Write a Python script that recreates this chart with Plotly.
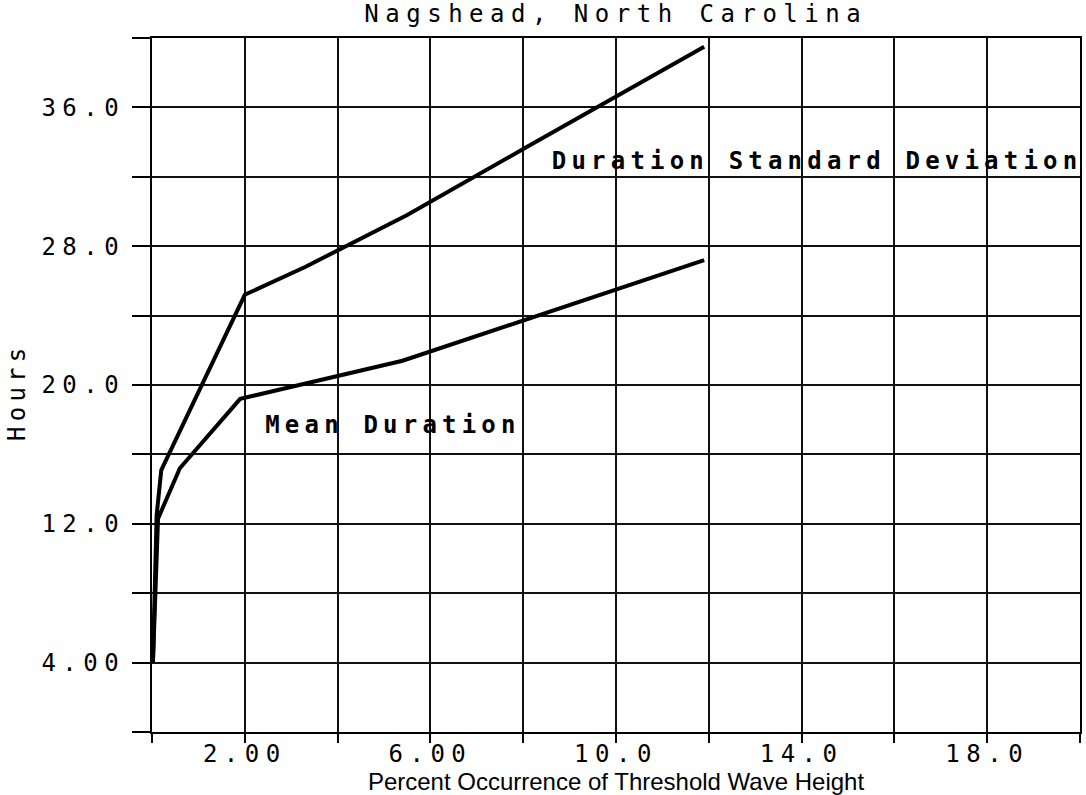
import plotly.graph_objects as go

# ---- data ----
std_x = [0.02, 0.10, 0.20, 2.00, 3.30, 5.50, 8.00, 11.90]
std_y = [4.0, 12.5, 15.1, 25.2, 26.8, 29.8, 33.6, 39.5]

mean_x = [0.02, 0.13, 0.60, 1.90, 5.40, 8.00, 11.90]
mean_y = [4.0, 12.3, 15.2, 19.2, 21.4, 23.7, 27.2]

x_tick_vals = [0, 2, 4, 6, 8, 10, 12, 14, 16, 18, 20]
x_tick_text = ["", "2.00", "", "6.00", "", "10.0", "", "14.0", "", "18.0", ""]
y_tick_vals = [0, 4, 8, 12, 16, 20, 24, 28, 32, 36, 40]
y_tick_text = ["", "4.00", "", "12.0", "", "20.0", "", "28.0", "", "36.0", ""]

title_text = "Nagshead, North Carolina"
x_title = "Percent Occurrence of Threshold Wave Height"
y_title = "Hours"
label_std = "Duration Standard Deviation"
label_mean = "Mean Duration"

MONO = "DejaVu Sans Mono"
INK = "#000000"
FS = 24

fig = go.Figure()
fig.add_trace(go.Scatter(x=std_x, y=std_y, mode="lines",
                         line=dict(color=INK, width=4), showlegend=False))
fig.add_trace(go.Scatter(x=mean_x, y=mean_y, mode="lines",
                         line=dict(color=INK, width=4), showlegend=False))

axis_common = dict(showgrid=True, gridcolor="#111111", gridwidth=1.6,
                   showline=True, linecolor=INK, linewidth=2, mirror=True,
                   ticks="outside", tickcolor=INK, tickwidth=1.6,
                   zeroline=False, tickmode="array",
                   tickfont=dict(family=MONO, size=FS, color=INK))

fig.update_xaxes(range=[0, 20], tickvals=x_tick_vals, ticktext=x_tick_text,
                 ticklen=9, ticklabelstandoff=-10,
                 title=dict(text=x_title, standoff=4,
                            font=dict(family="Liberation Sans", size=24, color=INK)),
                 **axis_common)
fig.update_yaxes(range=[0, 40], tickvals=y_tick_vals, ticktext=y_tick_text,
                 ticklen=18, ticklabelstandoff=2,
                 **axis_common)

fig.add_annotation(x=14.34, y=32.9, xref="x", yref="y", text="<b>%s</b>" % label_std,
                   showarrow=False, xanchor="center", yanchor="middle", align="center",
                   font=dict(family=MONO, size=FS, color=INK))
fig.add_annotation(x=5.19, y=17.7, xref="x", yref="y", text="<b>%s</b>" % label_mean,
                   showarrow=False, xanchor="center", yanchor="middle", align="center",
                   font=dict(family=MONO, size=FS, color=INK))
fig.add_annotation(x=-0.1455, y=0.49, xref="paper", yref="paper", text=y_title,
                   showarrow=False, textangle=-90, xanchor="center", yanchor="middle",
                   font=dict(family=MONO, size=FS, color=INK))

fig.update_layout(
    width=1086, height=795,
    margin=dict(l=152, r=6, t=38, b=63, autoexpand=False),
    paper_bgcolor="white", plot_bgcolor="white",
    title=dict(text=title_text, x=0.567, xanchor="center", y=1 - 14 / 795,
               yanchor="middle", font=dict(family=MONO, size=FS, color=INK)),
)

post = """
var s = document.createElement('style');
s.innerHTML = '.xtick text, .ytick text, .gtitle { letter-spacing: 6.5px; } '
            + '.annotation-text { letter-spacing: 5.2px; }';
document.head.appendChild(s);
"""
fig.write_html("out.html", post_script=post)
